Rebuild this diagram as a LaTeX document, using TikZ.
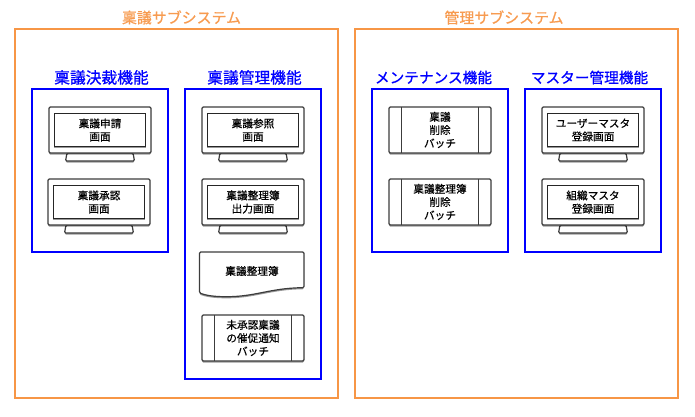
\documentclass[tikz,border=0pt]{standalone}
\usepackage{fontspec}
\setmainfont{Noto Sans CJK JP}
\newfontfamily\titlefont[FakeBold=0.7]{Noto Sans CJK JP}
\newfontfamily\labelfont[FakeBold=0.4]{Noto Sans CJK JP}
\usetikzlibrary{shadows}
\definecolor{orangeline}{RGB}{247,150,70}
\definecolor{orangetext}{RGB}{247,155,80}
\definecolor{blueline}{RGB}{0,0,255}
\definecolor{shapeline}{RGB}{60,60,60}
\tikzset{
  x=0.75pt,y=-0.75pt,
  outerbox/.style={draw=orangeline,line width=1.8pt,fill=none},
  funcbox/.style={draw=blueline,line width=1.8pt,fill=none},
  grouptitle/.style={text=orangetext,font=\titlefont\fontsize{11.2pt}{13pt}\selectfont,inner sep=0pt},
  functitle/.style={text=blueline,font=\titlefont\fontsize{11.8pt}{14pt}\selectfont,inner sep=0pt},
  functitlekana/.style={text=blueline,font=\titlefont\fontsize{11pt}{14pt}\selectfont,inner sep=0pt},
  softshadow/.style={drop shadow={opacity=.4,shadow xshift=0pt,shadow yshift=-1.2pt,fill=black}},
  shapebody/.style={draw=shapeline,line width=0.9pt,fill=white,rounded corners=1pt,softshadow},
  bodytext/.style={text=black,font=\labelfont\fontsize{8pt}{9.9pt}\selectfont,align=center,inner sep=0pt},
  screen/.style={draw=black!85,line width=0.9pt,fill=white,softshadow},
}
% \monitor{name}{left x}{top y}{text}
\newcommand{\monitor}[4]{%
  \path[shapebody] ({#2+18},{#3+46}) -- ({#2+16.5},{#3+54}) -- ({#2+85.5},{#3+54}) -- ({#2+84},{#3+46}) -- cycle;
  \path[shapebody] (#2,#3) rectangle ({#2+102},{#3+46});
  \node[screen,minimum width=68.4pt,minimum height=25.2pt,inner sep=0pt] (#1) at ({#2+51},{#3+23}) {};
  \node[bodytext] (#1-text) at (#1.center) {#4};
}
% \batch{name}{left x}{top y}{text}
\newcommand{\batch}[4]{%
  \node[shapebody,minimum width=76.5pt,minimum height=34.5pt,inner sep=0pt] (#1) at ({#2+51},{#3+23}) {};
  \draw[shapeline,line width=0.9pt] ({#2+12.7},#3) -- ({#2+12.7},{#3+46});
  \draw[shapeline,line width=0.9pt] ({#2+89.3},#3) -- ({#2+89.3},{#3+46});
  \node[bodytext] (#1-text) at (#1.center) {#4};
}
\begin{document}
\begin{tikzpicture}
\useasboundingbox (0,0) rectangle (695,417);
\node[outerbox,minimum width=242.25pt,minimum height=276.75pt,inner sep=0pt] (subA) at (176.5,213.5) {};
\node[outerbox,minimum width=242.25pt,minimum height=276.75pt,inner sep=0pt] (subB) at (516.5,213.5) {};
\node[grouptitle] (subAt) at (181.5,17.5) {稟議サブシステム};
\node[grouptitle] (subBt) at (504,17.5) {管理サブシステム};
\node[funcbox,minimum width=102pt,minimum height=122.25pt,inner sep=0pt] (f1) at (100,170.5) {};
\node[funcbox,minimum width=102pt,minimum height=217.5pt,inner sep=0pt] (f2) at (253,234) {};
\node[funcbox,minimum width=102pt,minimum height=122.25pt,inner sep=0pt] (f3) at (440,170.5) {};
\node[funcbox,minimum width=102pt,minimum height=122.25pt,inner sep=0pt] (f4) at (593,170.5) {};
\node[functitle] (f1t) at (101.5,77.5) {稟議決裁機能};
\node[functitle] (f2t) at (254.5,77.5) {稟議管理機能};
\node[functitlekana] (f3t) at (433.5,77.5) {メンテナンス機能};
\node[functitlekana] (f4t) at (589.5,77.5) {マスター管理機能};
\monitor{m1}{49}{107}{稟議申請\\画面}
\monitor{m2}{48}{179}{稟議承認\\画面}
\monitor{m3}{202}{107}{稟議参照\\画面}
\monitor{m4}{202}{179}{稟議整理簿\\出力画面}
\path[shapebody] (199.5,252) -- (304,252) -- (304,287.7) .. controls (270,288) and (255,297) .. (224,296.7) .. controls (212,296.5) and (205,295) .. (199.5,293) -- cycle;
\node[bodytext] (doc) at (252,271) {稟議整理簿};
\batch{b1}{202}{315}{未承認稟議\\の催促通知\\バッチ}
\batch{b2}{389}{107}{稟議\\削除\\バッチ}
\batch{b3}{389}{179}{稟議整理簿\\削除\\バッチ}
\monitor{m5}{542}{107}{ユーザーマスタ\\登録画面}
\monitor{m6}{542}{179}{組織マスタ\\登録画面}
\end{tikzpicture}
\end{document}
